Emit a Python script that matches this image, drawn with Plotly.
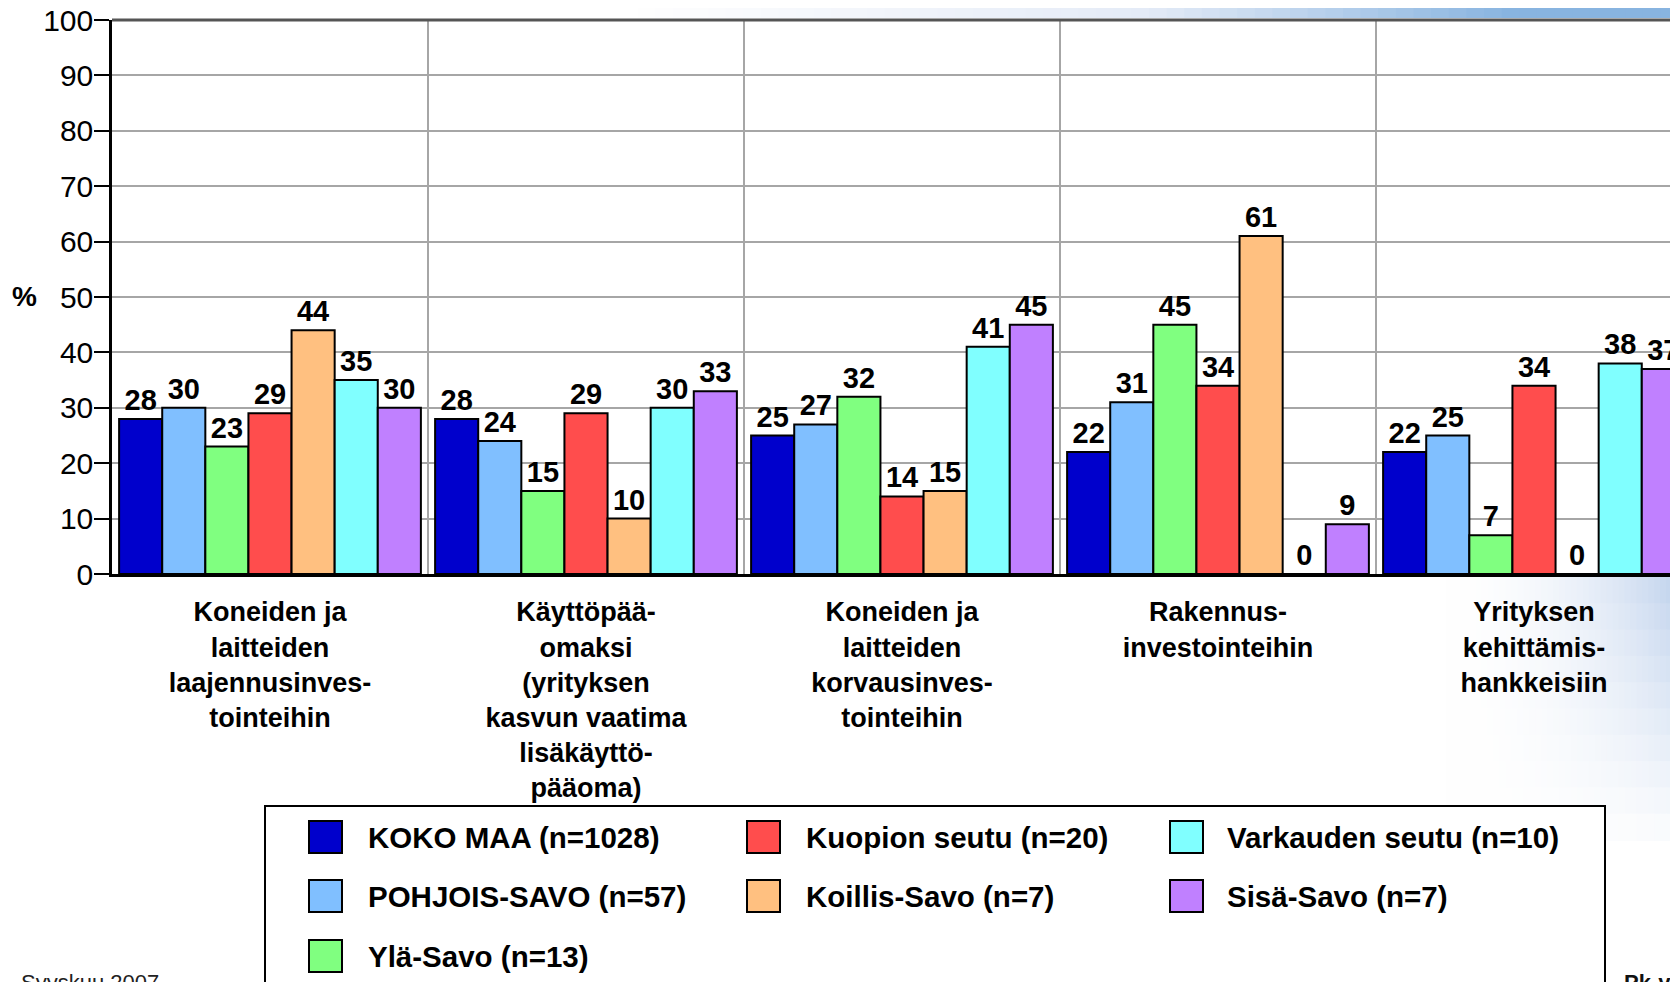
import plotly.graph_objects as go

# ---------------- data ----------------
categories = [
    "Koneiden ja<br>laitteiden<br>laajennusinves-<br>tointeihin",
    "Käyttöpää-<br>omaksi<br>(yrityksen<br>kasvun vaatima<br>lisäkäyttö-<br>pääoma)",
    "Koneiden ja<br>laitteiden<br>korvausinves-<br>tointeihin",
    "Rakennus-<br>investointeihin",
    "Yrityksen<br>kehittämis-<br>hankkeisiin",
]
series_names = [
    "KOKO MAA (n=1028)",
    "POHJOIS-SAVO (n=57)",
    "Ylä-Savo (n=13)",
    "Kuopion seutu (n=20)",
    "Koillis-Savo (n=7)",
    "Varkauden seutu (n=10)",
    "Sisä-Savo (n=7)",
]
koko_maa = [28, 28, 25, 22, 22]
pohjois_savo = [30, 24, 27, 31, 25]
yla_savo = [23, 15, 32, 45, 7]
kuopion_seutu = [29, 29, 14, 34, 34]
koillis_savo = [44, 10, 15, 61, 0]
varkauden_seutu = [35, 30, 41, 0, 38]
sisa_savo = [30, 33, 45, 9, 37]
series_values = [koko_maa, pohjois_savo, yla_savo, kuopion_seutu,
                 koillis_savo, varkauden_seutu, sisa_savo]
y_ticks = [0, 10, 20, 30, 40, 50, 60, 70, 80, 90, 100]

# ---------------- style ----------------
series_colors = ["#0000CC", "#80BFFF", "#80FF80", "#FF4D4D",
                 "#FFC080", "#80FFFF", "#C080FF"]
FONT = "Liberation Sans, Arial, sans-serif"
OFF = 8                      # page body margin
W, H = 1678 - OFF, 982 - OFF
# plot area in page pixels
PL, PR, PT, PB = 112, 1678, 20, 574
CAT_W = 316.0


def px(x):
    return (x - PL) / (PR - PL)


def py(y):
    return (PB - y) / (PB - PT)


def blend(c0, c1, u):
    return "rgb(%d,%d,%d)" % tuple(int(c0[k] + (c1[k] - c0[k]) * u) for k in range(3))


fig = go.Figure()
for name, vals, col in zip(series_names, series_values, series_colors):
    fig.add_trace(go.Bar(
        x=categories, y=vals, name=name,
        marker=dict(color=col, line=dict(color="black", width=2)),
        text=[str(v) for v in vals], textposition="outside",
        textfont=dict(family=FONT, size=29, color="black", weight="bold"),
        constraintext="none", cliponaxis=False, showlegend=False,
    ))

shapes = []
annotations = []

WHITE = (255, 255, 255)
# slide background band at top right
n = 60
x_start, x_end = 620, 1678
for i in range(n):
    x0 = x_start + (x_end - x_start) * i / n
    x1 = x_start + (x_end - x_start) * (i + 1) / n + 1
    t = i / (n - 1)
    if t < 0.5:
        col = blend(WHITE, (228, 235, 247), t / 0.5)
    else:
        col = blend((228, 235, 247), (136, 180, 224), min(1.0, (t - 0.5) / 0.35))
    shapes.append(dict(type="rect", xref="paper", yref="paper",
                       x0=px(x0), x1=px(x1), y0=py(18), y1=py(0),
                       fillcolor=col, line=dict(width=0), layer="below"))

# faint slide swoosh at bottom right (solid blended colours)
m = 40
rows = 10
y_top, y_bot = 577, 840
for j in range(rows):
    ya = y_top + (y_bot - y_top) * j / rows
    yb = y_top + (y_bot - y_top) * (j + 1) / rows + 1
    v = 1.0 - j / rows
    for i in range(m):
        x0 = 1440 + (1678 - 1440) * i / m
        x1 = 1440 + (1678 - 1440) * (i + 1) / m + 1
        t = (i / (m - 1)) ** 2 * v
        shapes.append(dict(type="rect", xref="paper", yref="paper",
                           x0=px(x0), x1=px(x1), y0=py(yb), y1=py(ya),
                           fillcolor=blend(WHITE, (196, 213, 238), t),
                           line=dict(width=0), layer="below"))

# thick top border of plot
shapes.append(dict(type="line", xref="paper", yref="paper", x0=0, x1=1,
                   y0=1, y1=1, line=dict(color="#555555", width=3)))

# legend box
shapes.append(dict(type="rect", xref="paper", yref="paper",
                   x0=px(265), x1=px(1605), y0=py(1000), y1=py(806),
                   line=dict(color="black", width=2), fillcolor="white"))
legend_cols = [0, 0, 0, 1, 1, 2, 2]
legend_rows = [0, 1, 2, 0, 1, 0, 1]
sw_x = [309, 747, 1170]
tx_x = [366, 804, 1225]
row_y = [837, 896, 956]
for name, col, c, r in zip(series_names, series_colors, legend_cols, legend_rows):
    yc = row_y[r]
    shapes.append(dict(type="rect", xref="paper", yref="paper",
                       x0=px(sw_x[c]), x1=px(sw_x[c] + 33),
                       y0=py(yc + 16), y1=py(yc - 16),
                       fillcolor=col, line=dict(color="black", width=2)))
    annotations.append(dict(xref="paper", yref="paper", x=px(tx_x[c]), y=py(yc),
                            xanchor="left", yanchor="middle", showarrow=False,
                            text=name,
                            font=dict(family=FONT, size=29.5, color="black",
                                      weight="bold")))

# % axis label
annotations.append(dict(xref="paper", yref="paper", x=px(24), y=py(296),
                        xanchor="center", yanchor="middle", showarrow=False,
                        text="%", font=dict(family=FONT, size=28, color="black",
                                            weight="bold")))
# footer texts (partly cut by the slide frame)
annotations.append(dict(xref="paper", yref="paper", x=px(19), y=py(968),
                        xanchor="left", yanchor="top", showarrow=False,
                        text="Syyskuu 2007",
                        font=dict(family=FONT, size=22, color="#222222")))
annotations.append(dict(xref="paper", yref="paper", x=px(1622), y=py(968),
                        xanchor="left", yanchor="top", showarrow=False,
                        text="Pk-yritysbarometri",
                        font=dict(family=FONT, size=22, color="#111111",
                                  weight="bold")))

fig.update_layout(
    width=W, height=H,
    margin=dict(l=PL - OFF, r=0, t=PT - OFF, b=H - (PB - OFF), pad=0),
    paper_bgcolor="white", plot_bgcolor="white",
    barmode="group", bargap=0.045, bargroupgap=0,
    showlegend=False,
    shapes=shapes, annotations=annotations,
    font=dict(family=FONT, color="black"),
)
fig.update_xaxes(
    type="category", range=[-0.5, -0.5 + (PR - PL) / CAT_W], automargin=False,
    tickson="boundaries", showgrid=True, gridcolor="#A6A6A6", gridwidth=1.5,
    ticks="", ticklabelstandoff=12,
    tickfont=dict(family=FONT, size=27, color="black", weight="bold"),
    showline=True, linecolor="black", linewidth=3, zeroline=False,
)
fig.update_yaxes(
    range=[0, 100], tickvals=y_ticks, ticktext=[str(v) for v in y_ticks],
    automargin=False,
    showgrid=True, gridcolor="#A6A6A6", gridwidth=1.5,
    ticks="outside", ticklen=15, tickwidth=1.5, tickcolor="black",
    ticklabelstandoff=-5, ticklabeloverflow="allow",
    tickfont=dict(family=FONT, size=30, color="black"),
    showline=True, linecolor="black", linewidth=2.5, zeroline=False,
)

fig.write_html("out.html")
